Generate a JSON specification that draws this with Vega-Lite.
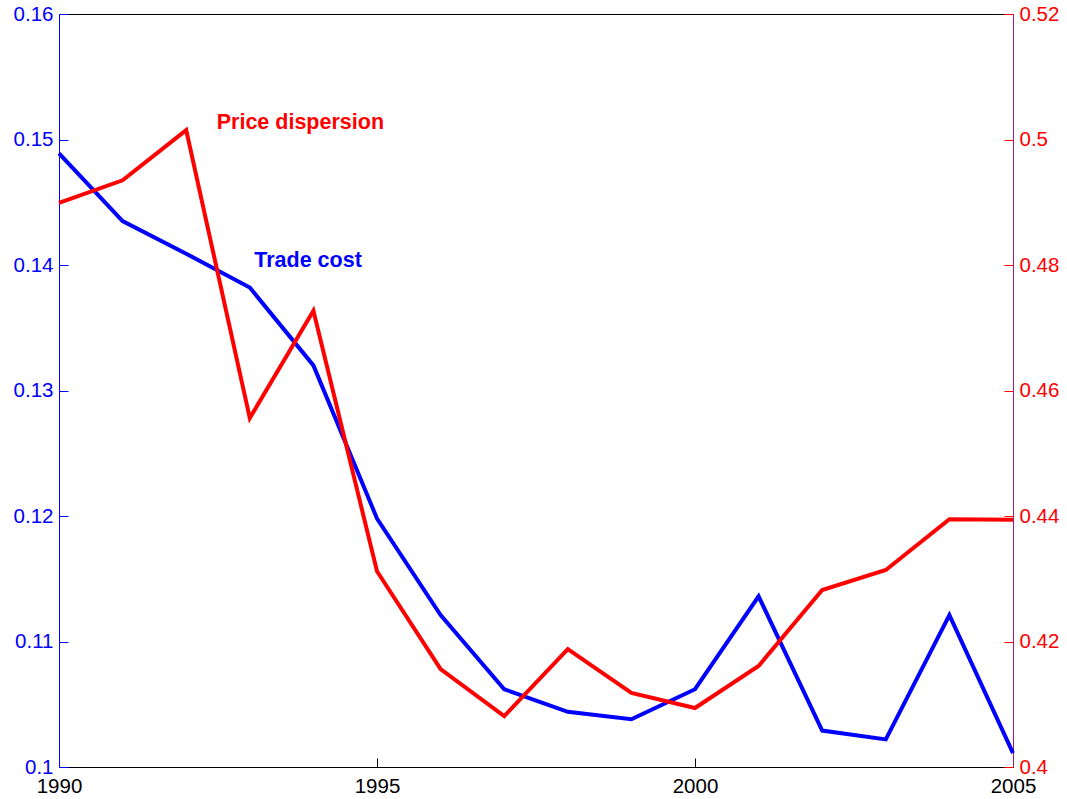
{
  "$schema": "https://vega.github.io/schema/vega-lite/v6.json",
  "autosize": {"type": "none"},
  "width": 954,
  "height": 753,
  "padding": {"left": 59, "top": 14, "right": 54, "bottom": 32},
  "background": "white",
  "config": {
    "view": {"stroke": "black", "strokeWidth": 1},
    "axis": {"grid": false, "labelFont": "Liberation Sans", "labelFontSize": 20.5, "labelFontWeight": "normal", "title": null, "tickSize": -9, "domainWidth": 1, "tickWidth": 1}
  },
  "datasets": {
    "series": [
      {"year": 1990, "trade": 0.1489, "price": 0.4899},
      {"year": 1991, "trade": 0.1435, "price": 0.4935},
      {"year": 1992, "trade": 0.1409, "price": 0.5015},
      {"year": 1993, "trade": 0.1382, "price": 0.4556},
      {"year": 1994, "trade": 0.1320, "price": 0.4727},
      {"year": 1995, "trade": 0.1198, "price": 0.4312},
      {"year": 1996, "trade": 0.1121, "price": 0.4156},
      {"year": 1997, "trade": 0.1062, "price": 0.4081},
      {"year": 1998, "trade": 0.1044, "price": 0.4188},
      {"year": 1999, "trade": 0.1038, "price": 0.4118},
      {"year": 2000, "trade": 0.1062, "price": 0.4094},
      {"year": 2001, "trade": 0.1136, "price": 0.4161},
      {"year": 2002, "trade": 0.1029, "price": 0.4282},
      {"year": 2003, "trade": 0.1022, "price": 0.4314},
      {"year": 2004, "trade": 0.1121, "price": 0.4395},
      {"year": 2005, "trade": 0.1011, "price": 0.4394}
    ],
    "tradeLabel": [{"year": 1993.07, "trade": 0.1403, "label": "Trade cost"}],
    "priceLabel": [{"year": 1992.48, "price": 0.5026, "label": "Price dispersion"}]
  },
  "encoding": {
    "x": {
      "field": "year", "type": "quantitative",
      "scale": {"domain": [1990, 2005], "nice": false, "zero": false},
      "axis": {"values": [1990, 1995, 2000, 2005], "format": "d", "domainColor": "black", "tickColor": "black", "labelColor": "black", "labelPadding": 18, "labelFlush": false}
    }
  },
  "layer": [
    {
      "encoding": {
        "y": {
          "field": "trade", "type": "quantitative",
          "scale": {"domain": [0.1, 0.16], "nice": false, "zero": false},
          "axis": {"orient": "left", "values": [0.1, 0.11, 0.12, 0.13, 0.14, 0.15, 0.16], "format": "~g", "domainColor": "#0000ff", "tickColor": "#0000ff", "labelColor": "#0000ff", "labelPadding": 15}
        }
      },
      "layer": [
        {"data": {"name": "series"}, "mark": {"type": "line", "color": "#0000ff", "strokeWidth": 4, "strokeJoin": "miter"}},
        {"data": {"name": "tradeLabel"}, "mark": {"type": "text", "color": "#0000ff", "align": "left", "baseline": "middle", "font": "Liberation Sans", "fontWeight": "bold", "fontSize": 21.5}, "encoding": {"text": {"field": "label"}}}
      ]
    },
    {
      "encoding": {
        "y": {
          "field": "price", "type": "quantitative",
          "scale": {"domain": [0.4, 0.52], "nice": false, "zero": false},
          "axis": {"orient": "right", "values": [0.4, 0.42, 0.44, 0.46, 0.48, 0.5, 0.52], "format": "~g", "domainColor": "#9e1c7e", "tickColor": "#ff0000", "labelColor": "#ff0000", "labelPadding": 15}
        }
      },
      "layer": [
        {"data": {"name": "series"}, "mark": {"type": "line", "color": "#ff0000", "strokeWidth": 4, "strokeJoin": "miter"}},
        {"data": {"name": "priceLabel"}, "mark": {"type": "text", "color": "#ff0000", "align": "left", "baseline": "middle", "font": "Liberation Sans", "fontWeight": "bold", "fontSize": 21.5}, "encoding": {"text": {"field": "label"}}}
      ]
    }
  ],
  "resolve": {"scale": {"y": "independent"}}
}
